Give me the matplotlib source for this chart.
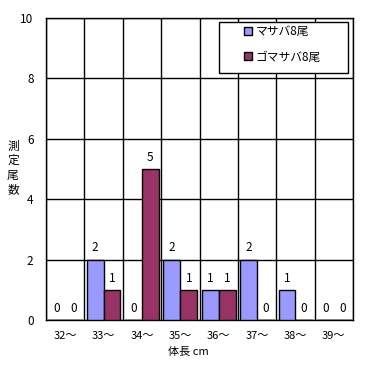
import matplotlib
matplotlib.use("Agg")
import matplotlib.pyplot as plt
from matplotlib.patches import Rectangle
import numpy as np

plt.rcParams['font.family'] = ['Noto Sans CJK JP', 'DejaVu Sans']

categories = ["32〜", "33〜", "34〜", "35〜", "36〜", "37〜", "38〜", "39〜"]
masaba = [0, 2, 0, 2, 1, 2, 1, 0]
gomasaba = [0, 1, 5, 1, 1, 0, 0, 0]
series_names = ["マサバ8尾", "ゴマサバ8尾"]
yticks = [0, 2, 4, 6, 8, 10]

W, H = 371, 365
fig = plt.figure(figsize=(W/100, H/100), dpi=100)
ax = fig.add_axes([46/W, 1-320/H, (353-46)/W, (320-18)/H])

x = np.arange(len(categories))
w = 0.44
b1 = ax.bar(x - w/2, masaba, w, color="#9999FF", edgecolor="black", linewidth=1, label=series_names[0], zorder=3)
b2 = ax.bar(x + w/2, gomasaba, w, color="#993366", edgecolor="black", linewidth=1, label=series_names[1], zorder=3)

for bars, vals in ((b1, masaba), (b2, gomasaba)):
    for r, v in zip(bars, vals):
        ax.text(r.get_x() + r.get_width()/2, v + 0.17, str(v), ha="center", va="bottom", fontsize=8.5)

ax.set_xlim(-0.5, len(categories) - 0.5)
ax.set_ylim(0, 10)
ax.set_yticks(yticks)
ax.set_yticklabels([str(t) for t in yticks], fontsize=8.5)
ax.set_xticks(x)
ax.set_xticklabels(categories, fontsize=8)
ax.tick_params(axis='x', length=0, pad=8)
ax.tick_params(axis='y', length=0, pad=9)
ax.set_xticks(np.arange(len(categories) + 1) - 0.5, minor=True)
ax.grid(True, which="minor", axis="x", color="black", linewidth=1, zorder=0)
ax.grid(True, which="major", axis="y", color="black", linewidth=1, zorder=0)
ax.tick_params(which="minor", length=0)
for s in ax.spines.values():
    s.set_linewidth(1)
    s.set_color("black")

fig.text(188/W, 1-352/H, "体長 cm", fontsize=8, ha="center", va="center")
ylab = fig.text(13/W, 1-168/H, "測\n定\n尾\n数", fontsize=8.5, ha="center", va="center",
                linespacing=1.15, rotation=0, multialignment="center")

# legend frame
frame = Rectangle((219/W, 1-73/H), (348-219)/W, (73-22)/H, transform=fig.transFigure,
                  facecolor="white", edgecolor="black", linewidth=1, zorder=5)
fig.patches.append(frame)
leg = fig.legend(handles=[b1, b2], loc="upper left", bbox_to_anchor=(244/W, 1-25/H),
                 fontsize=8.5, frameon=False, handlelength=0.7, handleheight=0.7,
                 borderpad=0, labelspacing=1.05, borderaxespad=0, handletextpad=0.3)
leg.set_zorder(6)

fig.savefig("out.png", dpi=100)
